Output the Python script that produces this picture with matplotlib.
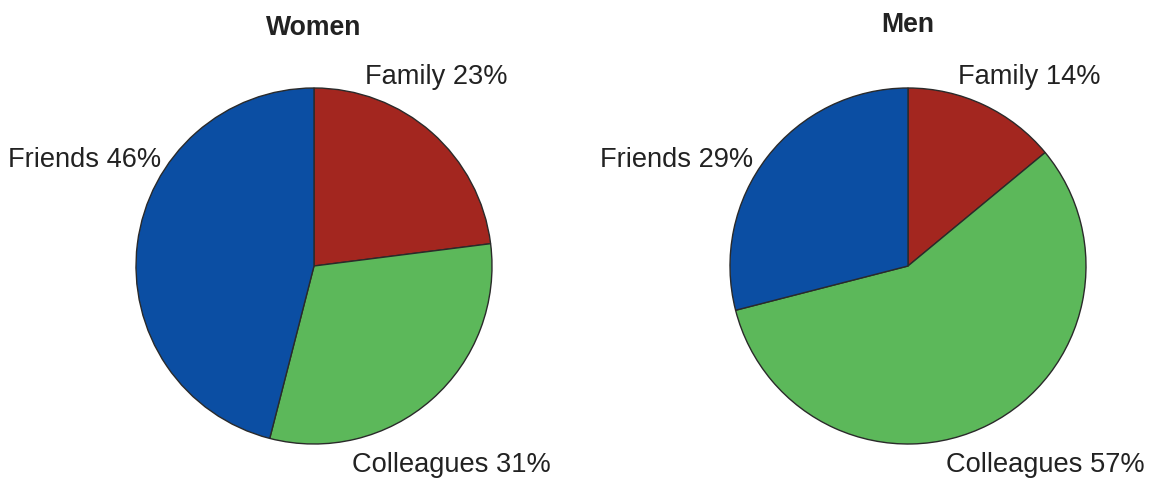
import matplotlib
matplotlib.use("Agg")
import matplotlib.pyplot as plt

# Share of people by relationship group
categories = ["Family", "Colleagues", "Friends"]
women_values = [23, 31, 46]
men_values = [14, 57, 29]
groups = ["Women", "Men"]

colors = ["#A3261F", "#5CB85A", "#0B4EA3"]

W, H = 1153, 478
fig = plt.figure(figsize=(W / 100, H / 100), dpi=100)
ax = fig.add_axes([0, 0, 1, 1])

font = "Liberation Sans"
fs_label = 19.6
fs_title = 19.2

# pie centres and label anchors in figure pixel space (y measured from top)
layouts = {
    "Women": {
        "center": (314, 266),
        "title": (314, 28),
        "labels": {"Family": (365, 77), "Friends": (8, 160), "Colleagues": (352, 465)},
    },
    "Men": {
        "center": (908, 266),
        "title": (908, 25),
        "labels": {"Family": (958, 77), "Friends": (600, 160), "Colleagues": (946, 465)},
    },
}

for grp, vals in zip(groups, [women_values, men_values]):
    lay = layouts[grp]
    cx, cy = lay["center"]
    ax.pie(vals, colors=colors, startangle=90, counterclock=False,
           center=(cx, H - cy), radius=178, frame=True,
           wedgeprops=dict(edgecolor="#2a2a2a", linewidth=1.0))
    tx, ty = lay["title"]
    ax.text(tx, H - ty, grp, ha="center", va="center", fontsize=fs_title,
            fontweight="bold", family=font, color="#222222")
    for cat, v in zip(categories, vals):
        lx, ly = lay["labels"][cat]
        ax.text(lx, H - ly, f"{cat} {v}%", ha="left", va="center",
                fontsize=fs_label, family=font, color="#222222")

ax.set_xlim(0, W)
ax.set_ylim(0, H)
ax.set_aspect("equal")
ax.axis("off")
fig.savefig("out.png", dpi=100, facecolor="white")
